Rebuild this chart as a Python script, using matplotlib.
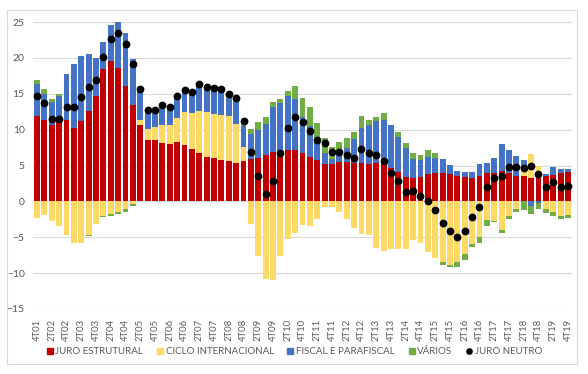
import matplotlib
matplotlib.use("Agg")
import matplotlib.pyplot as plt
import numpy as np
from matplotlib.patches import Rectangle
from matplotlib.lines import Line2D

plt.rcParams['font.family'] = ['Lato', 'DejaVu Sans']

# quarters 4T01 .. 4T19
quarters = ["4T01"] + [f"{q}T{y:02d}" for y in range(2, 20) for q in (1, 2, 3, 4)]

juro_estrutural = [11.9, 11.4, 10.7, 11.2, 11.4, 10.25, 11.2, 12.6, 14.75, 18.4,
                   19.6, 18.6, 16.1, 13.5, 10.6, 8.6, 8.5, 8.1, 8.0, 8.3,
                   7.85, 7.3, 6.8, 6.2, 6.0, 5.75, 5.6, 5.4, 5.6, 5.9,
                   6.0, 6.5, 6.9, 6.9, 7.2, 7.1, 6.8, 6.2, 5.7, 5.2,
                   5.2, 5.5, 5.5, 5.4, 5.3, 5.2, 5.4, 5.2, 4.7, 4.1,
                   3.4, 3.3, 3.4, 3.75, 4.0, 3.95, 3.85, 3.5, 3.35, 3.3,
                   3.6, 3.95, 4.0, 4.2, 3.9, 3.5, 3.5, 3.25, 3.25, 3.5,
                   3.7, 4.0, 4.1]
ciclo_internacional = [-2.3, -1.95, -2.8, -3.4, -4.7, -5.85, -5.75, -4.7, -3.1, -2.0,
                       -1.7, -1.5, -1.1, -0.4, 0.8, 1.5, 1.9, 2.5, 2.6, 3.3,
                       4.55, 5.0, 5.8, 6.3, 6.2, 6.35, 6.3, 5.4, 2.0, -3.2,
                       -7.6, -10.85, -11.0, -7.6, -5.3, -4.4, -3.3, -3.4, -2.5, -0.8,
                       -0.8, -1.5, -2.5, -3.7, -4.6, -4.7, -6.45, -6.9, -6.7, -6.7,
                       -6.7, -5.4, -5.8, -7.05, -7.85, -8.5, -8.85, -8.5, -7.4, -5.9,
                       -5.0, -2.6, -2.75, -4.0, -2.1, -1.0, 0.7, 3.35, 1.65, -1.1,
                       -1.55, -2.0, -1.9]
fiscal = [4.5, 3.6, 3.2, 3.55, 6.3, 8.85, 9.1, 8.0, 5.25, 3.8,
          5.0, 6.4, 7.4, 6.3, 4.6, 2.7, 2.1, 2.3, 2.2, 3.05,
          3.1, 3.0, 3.6, 3.4, 3.3, 3.3, 2.5, 3.1, 2.9, 3.5,
          4.0, 4.3, 6.2, 6.8, 7.45, 7.2, 5.0, 4.3, 3.2, 1.5,
          0.7, 1.3, 2.0, 3.3, 4.95, 5.4, 5.8, 6.2, 5.9, 4.85,
          4.1, 2.6, 2.35, 2.45, 2.0, 1.95, 1.2, 0.8, 0.75, 0.8,
          1.55, 1.45, 2.0, 3.8, 3.3, 2.85, 1.6, -0.7, -0.2, 0.3,
          1.1, 0.45, 0.4]
varios = [0.5, 0.7, 0.4, 0.15, 0.1, 0.0, -0.1, -0.1, -0.1, -0.2,
          -0.3, -0.2, -0.4, -0.25, 0.0, 0.0, 0.2, 0.1, 0.0, 0.0,
          0.0, 0.0, 0.0, 0.0, 0.0, 0.0, 0.25, 0.15, 0.45, 0.7,
          1.0, 1.0, 0.8, 0.5, 0.8, 1.8, 2.6, 2.7, 2.0, 2.2,
          1.7, 1.5, 1.4, 1.0, 1.65, 0.8, 0.5, 0.9, 0.0, 0.7,
          0.6, 0.9, 0.75, 0.9, 0.7, -0.35, -0.25, -0.7, -0.8, -0.45,
          -0.85, -0.8, -0.15, -0.45, -0.35, -0.5, -1.2, -1.0, -0.8, -0.5,
          -0.55, -0.4, -0.4]
juro_neutro = [14.7, 13.7, 11.5, 11.5, 13.1, 13.2, 14.6, 16.0, 16.9, 20.1,
               22.6, 23.5, 21.9, 19.2, 15.7, 12.7, 12.75, 13.4, 13.2, 14.65,
               15.5, 15.3, 16.4, 16.0, 15.8, 15.7, 14.9, 14.4, 11.2, 6.95,
               3.5, 1.0, 2.9, 6.7, 10.2, 11.8, 11.1, 9.8, 8.5, 8.1,
               6.9, 6.9, 6.5, 6.1, 7.3, 6.8, 6.5, 5.6, 3.9, 2.9,
               1.3, 1.4, 0.7, 0.05, -1.15, -2.95, -4.1, -4.95, -4.1, -2.2,
               -0.75, 1.95, 3.2, 3.5, 4.8, 4.8, 4.6, 5.0, 3.8, 2.0,
               2.7, 2.0, 2.2]

series = [("JURO ESTRUTURAL", juro_estrutural, "#C00000"),
          ("CICLO INTERNACIONAL", ciclo_internacional, "#FFD966"),
          ("FISCAL E PARAFISCAL", fiscal, "#4472C4"),
          ("VÁRIOS", varios, "#70AD47")]

fig = plt.figure(figsize=(5.88, 3.74), dpi=100)
ax = fig.add_axes([33 / 588, 1 - 309 / 374, 539 / 588, 287 / 374])

x = np.arange(len(quarters))
pos_base = np.zeros(len(x))
neg_base = np.zeros(len(x))
for name, vals, col in series:
    v = np.array(vals)
    bottom = np.where(v >= 0, pos_base, neg_base)
    ax.bar(x, v, width=0.8, bottom=bottom, color=col, linewidth=0, zorder=2)
    pos_base = pos_base + np.where(v >= 0, v, 0)
    neg_base = neg_base + np.where(v < 0, v, 0)

ax.plot(x, juro_neutro, "o", color="black", markersize=4.6, zorder=3)

ax.set_xlim(-0.55, len(x) - 0.45)
ax.set_ylim(-15, 25)
ax.set_yticks(np.arange(-15, 26, 5))
ax.set_xticks(x[::2])
ax.set_xticklabels(quarters[::2], rotation=90)
ax.tick_params(axis="y", length=0, labelsize=7.5, colors="#595959", pad=6)
ax.tick_params(axis="x", length=0, labelsize=6.8, colors="#595959", pad=7)
ax.grid(axis="y", color="#D9D9D9", linewidth=0.8, zorder=0)
for s in ax.spines.values():
    s.set_visible(False)

handles = [Line2D([], [], marker="s", linestyle="none", color=c, markersize=3.8) for _, _, c in series]
handles.append(Line2D([], [], marker="o", linestyle="none", color="black", markersize=3.8))
labels = [s[0] for s in series] + ["JURO NEUTRO"]
leg = fig.legend(handles, labels, loc="center", bbox_to_anchor=(293 / 588, 1 - 352 / 374), ncol=5,
                 frameon=False, fontsize=7, handletextpad=0.0, columnspacing=1.1, handlelength=1.2)
for t in leg.get_texts():
    t.set_color("#595959")

fig.patches.append(Rectangle((7 / 588, 1 - 364 / 374), 570 / 588, 354 / 374, transform=fig.transFigure,
                             fill=False, edgecolor="#D9D9D9", linewidth=0.8))

fig.savefig("out.png", dpi=100)
